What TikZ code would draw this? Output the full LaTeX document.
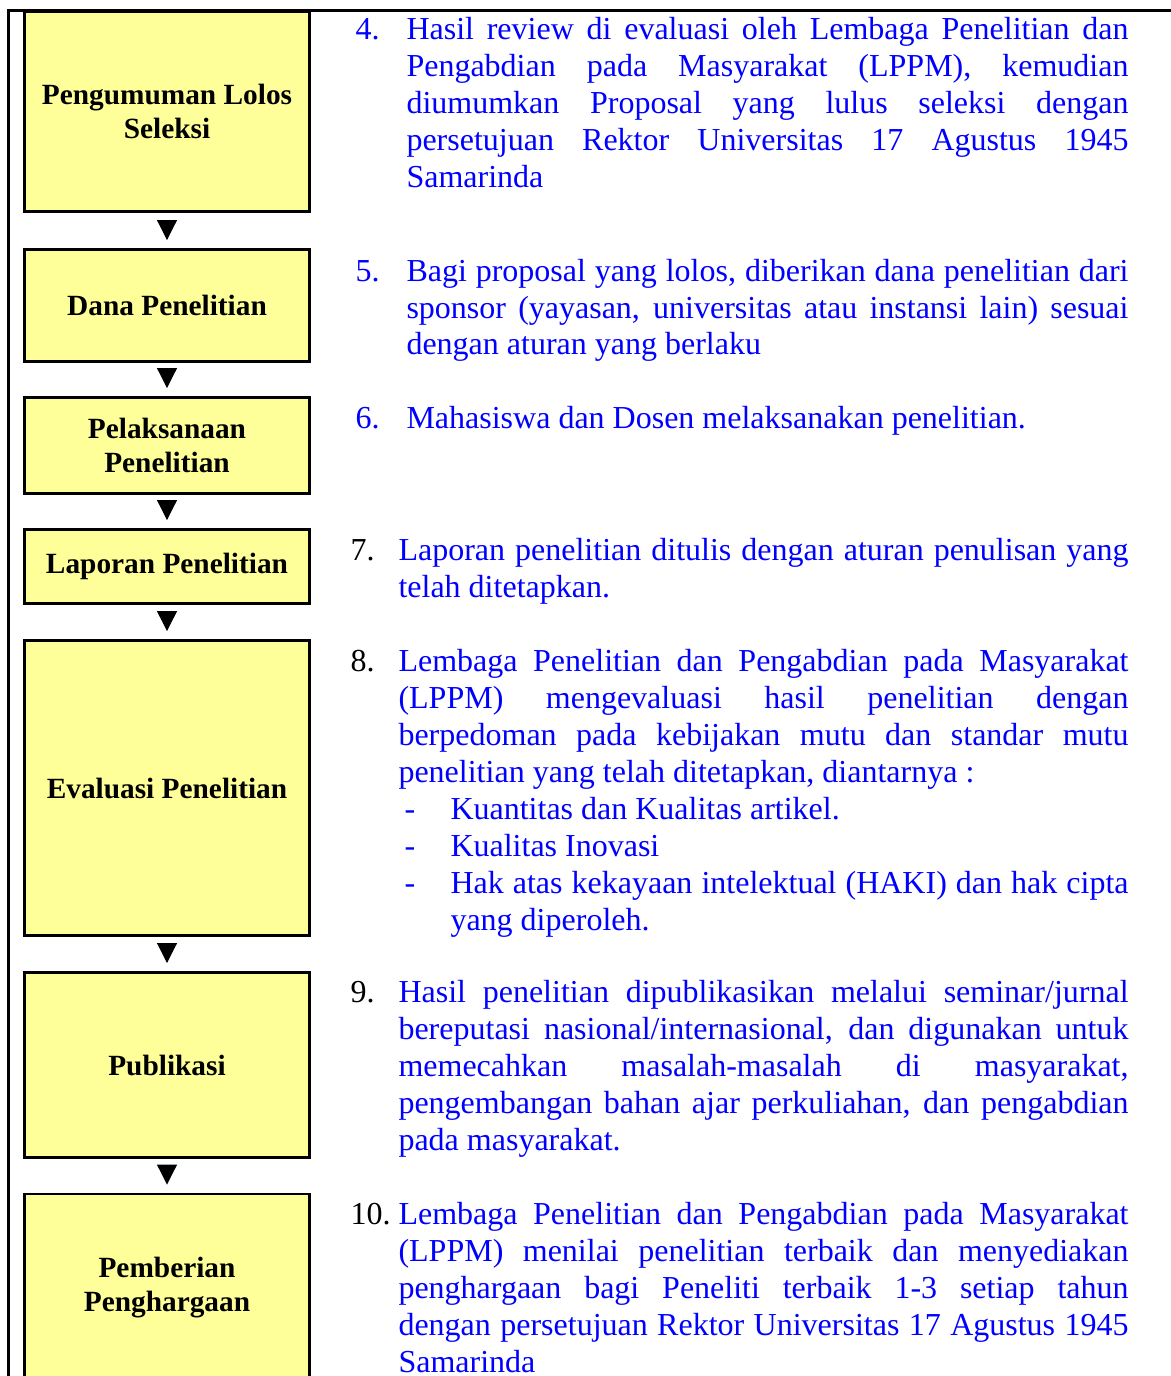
\documentclass[tikz,border=0pt]{standalone}
\usepackage{fontspec}
\setmainfont{Liberation Serif}
\usetikzlibrary{positioning,arrows.meta}
\definecolor{boxyellow}{RGB}{255,255,153}
\definecolor{itemblue}{RGB}{0,0,255}
\tolerance=10000
\hyphenpenalty=10000

\begin{document}
\begin{tikzpicture}[
  x=0.375pt, y=-0.375pt,
  stagebox/.style={draw=black, fill=boxyellow, line width=1.1pt, minimum width=106.9pt, align=center, inner sep=2pt, font=\fontsize{11}{12.75}\selectfont\bfseries},
  nextstage/.style={-{Triangle[length=7.5pt,width=7.5pt]}, line width=0.4pt, shorten <=3pt, shorten >=3pt},
  itemnum/.style={anchor=base west, inner sep=0pt, font=\fontsize{12}{13.875}\selectfont},
  itemtext/.style={anchor=base west, inner sep=0pt, text width=#1, align=justify, text=itemblue, font=\fontsize{12}{13.875}\selectfont},
  tableline/.style={line width=1.1pt}
]
  \useasboundingbox (0,0) rectangle (1171,1376);
  \clip (0,0) rectangle (1171,1376);
  \draw[tableline] (1171,10.5) -- (8.5,10.5) -- (8.5,1376);

  \node[stagebox, minimum height=75pt] (b4) at (167,111.5) {Pengumuman Lolos\\Seleksi};
  \node[stagebox, minimum height=42pt] (b5) at (167,305.5) {Dana Penelitian};
  \node[stagebox, minimum height=36pt] (b6) at (167,445.5) {Pelaksanaan\\Penelitian};
  \node[stagebox, minimum height=27.75pt] (b7) at (167,566.5) {Laporan Penelitian};
  \node[stagebox, minimum height=110.6pt] (b8) at (167,788) {Evaluasi Penelitian};
  \node[stagebox, minimum height=69.4pt] (b9) at (167,1065) {Publikasi};
  \node[stagebox, minimum height=70.5pt] (b10) at (167,1288) {Pemberian\\Penghargaan};

  \draw[nextstage] (b4) -- (b5);
  \draw[nextstage] (b5) -- (b6);
  \draw[nextstage] (b6) -- (b7);
  \draw[nextstage] (b7) -- (b8);
  \draw[nextstage] (b8) -- (b9);
  \draw[nextstage] (b9) -- (b10);

  \node[itemnum, text=itemblue] (n4) at (355,40) {4.};
  \node[itemtext=270.75pt] (t4) at (406,40) {Hasil review di evaluasi oleh Lembaga Penelitian dan\linebreak Pengabdian pada Masyarakat (LPPM), kemudian\linebreak diumumkan Proposal yang lulus seleksi dengan\linebreak persetujuan Rektor Universitas 17 Agustus 1945\linebreak Samarinda};
  \node[itemnum, text=itemblue] (n5) at (355,281) {5.};
  \node[itemtext=270.75pt] (t5) at (406,281) {Bagi proposal yang lolos, diberikan dana penelitian dari\linebreak sponsor (yayasan, universitas atau instansi lain) sesuai\linebreak dengan aturan yang berlaku};
  \node[itemnum, text=itemblue] (n6) at (355,428) {6.};
  \node[itemtext=270.75pt] (t6) at (406,428) {Mahasiswa dan Dosen melaksanakan penelitian.};
  \node[itemnum] (n7) at (350,560) {7.};
  \node[itemtext=273.75pt] (t7) at (398,560) {Laporan penelitian ditulis dengan aturan penulisan yang\linebreak telah ditetapkan.};
  \node[itemnum] (n8) at (350,671) {8.};
  \node[itemtext=273.75pt] (t8) at (398,671) {Lembaga Penelitian dan Pengabdian pada Masyarakat\linebreak (LPPM) mengevaluasi hasil penelitian dengan\linebreak berpedoman pada kebijakan mutu dan standar mutu\linebreak penelitian yang telah ditetapkan, diantarnya :};
  \node[itemtext=254.25pt] (l8) at (450,819) {\llap{\makebox[17.25pt][l]{-}}Kuantitas dan Kualitas artikel.\\
    \llap{\makebox[17.25pt][l]{-}}Kualitas Inovasi\\
    \llap{\makebox[17.25pt][l]{-}}Hak atas kekayaan intelektual (HAKI) dan hak cipta\linebreak yang diperoleh.};
  \node[itemnum] (n9) at (350,1002) {9.};
  \node[itemtext=273.75pt] (t9) at (398,1002) {Hasil penelitian dipublikasikan melalui seminar/jurnal\linebreak bereputasi nasional/internasional, dan digunakan untuk\linebreak memecahkan masalah-masalah di masyarakat,\linebreak pengembangan bahan ajar perkuliahan, dan pengabdian\linebreak pada masyarakat.};
  \node[itemnum] (n10) at (350,1224) {10.};
  \node[itemtext=273.75pt] (t10) at (398,1224) {Lembaga Penelitian dan Pengabdian pada Masyarakat\linebreak (LPPM) menilai penelitian terbaik dan menyediakan\linebreak penghargaan bagi Peneliti terbaik 1-3 setiap tahun\linebreak dengan persetujuan Rektor Universitas 17 Agustus 1945\linebreak Samarinda};
\end{tikzpicture}
\end{document}
